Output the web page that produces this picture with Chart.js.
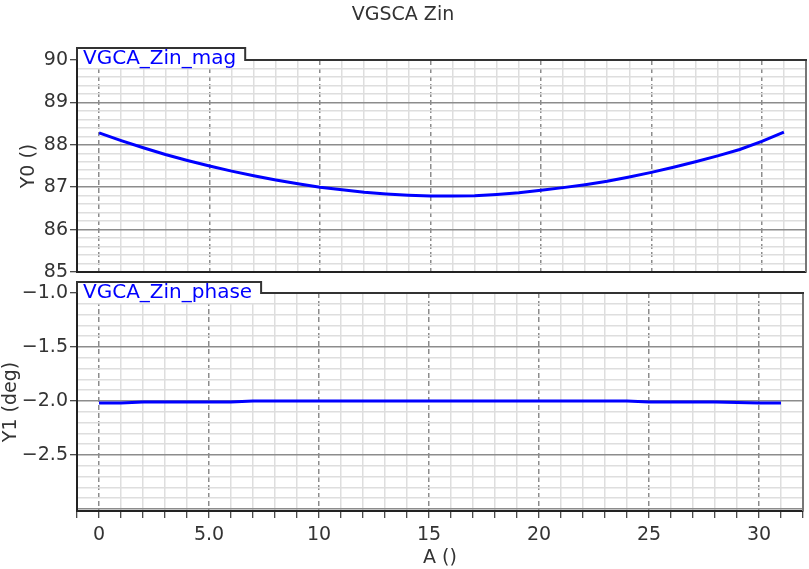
<!DOCTYPE html>
<html>
<head>
<meta charset="utf-8">
<script src="https://cdn.jsdelivr.net/npm/chart.js@4.4.1/dist/chart.umd.min.js"></script>
<style>
body { margin: 0; background: #fff; }
#wrap { position: relative; width: 809px; height: 569px; overflow: hidden; }
#magChart { position: absolute; left: 0; top: 0; }
#phaseChart { position: absolute; left: 0; top: 276px; }
</style>
</head>
<body>
<div id="wrap">
  <canvas id="magChart" width="809" height="290"></canvas>
  <canvas id="phaseChart" width="809" height="293"></canvas>
</div>
<script>
// sweep values (A) and the two traces
var sweepA = [0,1,2,3,4,5,6,7,8,9,10,11,12,13,14,15,16,17,18,19,20,21,22,23,24,25,26,27,28,29,30,31];
var zinMag = [88.28,88.10,87.93,87.77,87.63,87.50,87.38,87.27,87.17,87.08,87.00,86.94,86.88,86.84,86.81,86.79,
              86.79,86.80,86.83,86.87,86.93,86.99,87.06,87.14,87.24,87.35,87.47,87.60,87.74,87.89,88.08,88.30];
var zinPhase = [-2.02,-2.02,-2.01,-2.01,-2.01,-2.01,-2.01,-2.00,-2.00,-2.00,-2.00,-2.00,-2.00,-2.00,-2.00,-2.00,
                -2.00,-2.00,-2.00,-2.00,-2.00,-2.00,-2.00,-2.00,-2.00,-2.01,-2.01,-2.01,-2.01,-2.015,-2.02,-2.02];

var xTickValues = [0, 5, 10, 15, 20, 25, 30];
var xTickLabels = ['0', '5.0', '10', '15', '20', '25', '30'];
var magTickValues = [85, 86, 87, 88, 89, 90];
var magTickLabels = ['85', '86', '87', '88', '89', '90'];
var phaseTickValues = [-1.0, -1.5, -2.0, -2.5];
var phaseTickLabels = ['\u22121.0', '\u22121.5', '\u22122.0', '\u22122.5'];

Chart.defaults.font.family = '"DejaVu Sans", sans-serif';
Chart.defaults.color = '#333';

function findLabel(values, labels, v) {
    for (var i = 0; i < values.length; i++) {
        if (Math.abs(values[i] - v) < 1e-6) return labels[i];
    }
    return '';
}
function isMajor(v, step) {
    var r = v / step;
    return Math.abs(r - Math.round(r)) < 1e-6;
}

var majorColor = '#8c8c8c';
var minorColor = '#dedede';

function xScale(showLabels) {
    return {
        type: 'linear', min: -1, max: 32,
        afterFit: function (s) { s.height = showLabels ? 58 : 0; },
        ticks: {
            stepSize: 1, autoSkip: false, maxRotation: 0, display: showLabels, padding: 6,
            color: '#333', font: { size: 19 },
            callback: function (v) { return findLabel(xTickValues, xTickLabels, v); }
        },
        grid: {
            lineWidth: 1.5, drawTicks: showLabels, tickLength: 7, tickColor: '#111', tickWidth: 1,
            color: function (c) { return (c.tick && isMajor(c.tick.value, 5)) ? majorColor : minorColor; }
        },
        border: {
            color: '#222', width: 2,
            dash: function (c) { return (c.tick && isMajor(c.tick.value, 5)) ? [5, 3] : []; }
        },
        title: { display: showLabels, text: 'A ()', color: '#333', font: { size: 19 }, padding: { top: 0, bottom: 0 } }
    };
}

function yScale(min, max, step, majorStep, values, labels, titleText, titlePad) {
    return {
        type: 'linear', min: min, max: max,
        afterFit: function (s) { s.width = 77; },
        ticks: {
            stepSize: step, autoSkip: false, includeBounds: false, padding: 2,
            color: '#333', font: { size: 19 },
            callback: function (v) { return findLabel(values, labels, v); }
        },
        grid: {
            lineWidth: 1.5, tickLength: 7, tickWidth: 1,
            color: function (c) { return (c.tick && isMajor(c.tick.value, majorStep)) ? majorColor : minorColor; },
            tickColor: function (c) { return (c.tick && findLabel(values, labels, c.tick.value) !== '') ? '#111' : 'rgba(0,0,0,0)'; }
        },
        border: { color: '#222', width: 2 },
        title: { display: true, text: titleText, color: '#333', font: { size: 19 }, padding: { top: titlePad, bottom: 0 } }
    };
}

// tab with the trace name, plus the top and right frame lines
var tabPlugin = {
    id: 'traceTab',
    afterDraw: function (chart, args, opts) {
        var a = chart.chartArea, c = chart.ctx;
        var text = chart.data.datasets[0].label;
        c.save();
        c.font = '20px "DejaVu Sans"';
        var w = c.measureText(text).width + 15;
        var top = a.top - opts.rise;
        c.fillStyle = '#fff';
        c.fillRect(a.left + 1, top, w, opts.rise + opts.below);
        c.lineWidth = 2;
        c.strokeStyle = '#777';
        c.beginPath();
        c.moveTo(a.right, a.top);
        c.lineTo(a.right, a.bottom);
        c.stroke();
        c.strokeStyle = '#333';
        c.beginPath();
        c.moveTo(a.left, a.top);
        c.lineTo(a.left, top);
        c.lineTo(a.left + w, top);
        c.lineTo(a.left + w, a.top);
        c.lineTo(a.right + 1, a.top);
        c.stroke();
        c.fillStyle = '#0000ff';
        c.textBaseline = 'alphabetic';
        c.fillText(text, a.left + 6, top + 16);
        c.restore();
    }
};

function points(ys) {
    return sweepA.map(function (x, i) { return { x: x, y: ys[i] }; });
}

new Chart(document.getElementById('magChart'), {
    type: 'line',
    data: { datasets: [{ label: 'VGCA_Zin_mag', data: points(zinMag), borderColor: '#0000ff', borderWidth: 3, pointRadius: 0, tension: 0 }] },
    options: {
        responsive: false, animation: false, devicePixelRatio: 1, events: [],
        layout: { padding: { left: 0, right: 3, top: 0, bottom: 18 } },
        plugins: {
            legend: { display: false }, tooltip: { enabled: false },
            title: { display: true, text: 'VGSCA Zin', color: '#333', font: { size: 19, weight: 'normal' }, padding: { top: 4, bottom: 33.2 } },
            traceTab: { rise: 12, below: 8 }
        },
        scales: {
            x: xScale(false),
            y: yScale(85, 90, 0.2, 1, magTickValues, magTickLabels, 'Y0 ()', 18)
        }
    },
    plugins: [tabPlugin]
});

new Chart(document.getElementById('phaseChart'), {
    type: 'line',
    data: { datasets: [{ label: 'VGCA_Zin_phase', data: points(zinPhase), borderColor: '#0000ff', borderWidth: 3, pointRadius: 0, tension: 0 }] },
    options: {
        responsive: false, animation: false, devicePixelRatio: 1, events: [],
        layout: { padding: { left: 0, right: 3, top: 17, bottom: 0 } },
        plugins: {
            legend: { display: false }, tooltip: { enabled: false },
            traceTab: { rise: 11, below: 10 }
        },
        scales: {
            x: xScale(true),
            y: yScale(-3.02, -1.0, 0.1, 0.5, phaseTickValues, phaseTickLabels, 'Y1 (deg)', 0)
        }
    },
    plugins: [tabPlugin]
});
</script>
</body>
</html>
